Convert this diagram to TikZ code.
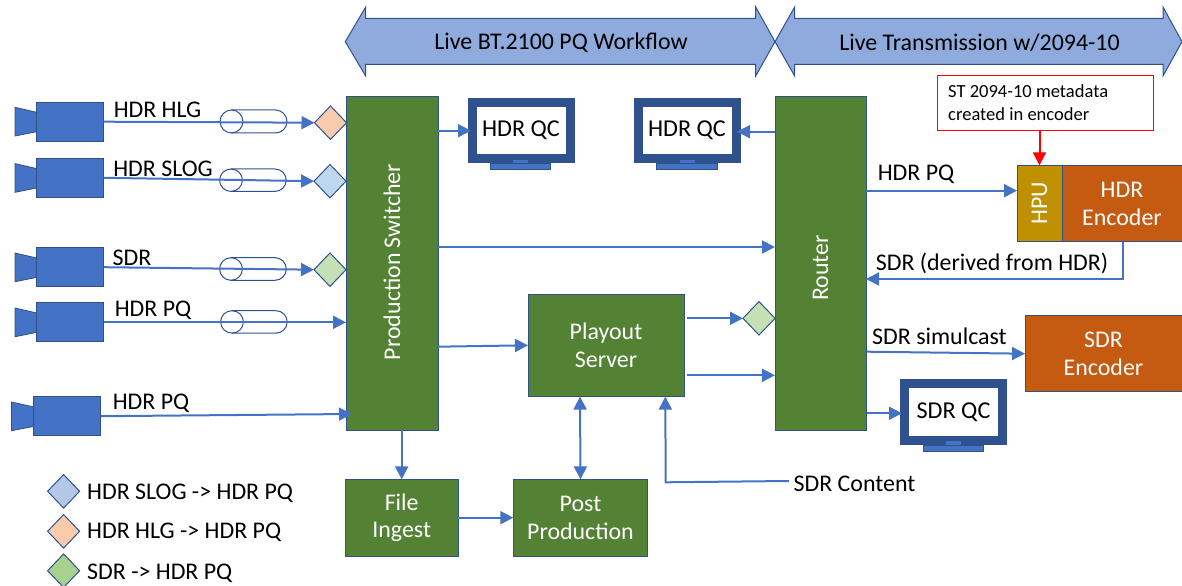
\documentclass[tikz,border=0pt]{standalone}
\usepackage{fontspec}
\setmainfont{Carlito}
\usetikzlibrary{arrows.meta,shapes.geometric}

\definecolor{boxgreen}{HTML}{548235}
\definecolor{edgeblue}{HTML}{2F528F}
\definecolor{linkblue}{HTML}{4472C4}
\definecolor{bannerblue}{HTML}{8FAADC}
\definecolor{encorange}{HTML}{C55A11}
\definecolor{hpugold}{HTML}{BF9000}
\definecolor{hlgpeach}{HTML}{F8CBAD}
\definecolor{slogblue}{HTML}{BDD7EE}
\definecolor{sdrgreen}{HTML}{C5E0B4}
\definecolor{keyblue}{HTML}{B4C7E7}
\definecolor{keygreen}{HTML}{A9D18E}

\tikzset{
  box/.style={draw=edgeblue, line width=1bp, fill=boxgreen, text=white, align=center, inner sep=0pt, outer sep=0pt, font=\fontsize{24}{28}\selectfont},
  encoder/.style={box, fill=encorange},
  link/.style={draw=linkblue, line width=2bp, -{Triangle[length=13bp,width=13bp]}},
  biglink/.style={link, {Triangle[length=13bp,width=13bp]}-{Triangle[length=13bp,width=13bp]}},
  caption/.style={inner sep=0pt, font=\fontsize{24}{28}\selectfont},
  banner/.style={draw=edgeblue, line width=1bp, fill=bannerblue},
  lens/.style={draw=edgeblue, line width=.8bp, fill=linkblue},
  cambody/.style={draw=edgeblue, line width=.8bp, fill=linkblue, inner sep=0pt, outer sep=0pt, minimum width=67bp, minimum height=39bp},
  cable/.style={draw=edgeblue, line width=1bp},
  convert/.style={diamond, draw=edgeblue, line width=1bp, inner sep=0pt, outer sep=0pt, minimum width=32bp, minimum height=33.5bp},
  monitor/.style={draw=edgeblue, line width=9bp, fill=white, inner sep=0pt, minimum width=98bp, minimum height=56.5bp, font=\fontsize{24.3}{28}\selectfont},
  stand/.style={draw=edgeblue, line width=.6bp, fill=linkblue, inner sep=0pt, outer sep=0pt, minimum width=60.5bp, minimum height=6bp},
  neck/.style={fill=linkblue, inner sep=0pt, minimum width=15bp, minimum height=3.5bp}
}

\begin{document}
\begin{tikzpicture}[x=1bp,y=-1bp]

\useasboundingbox (0,0) rectangle (1182,586);

% banners
\draw [banner] (345.3,41.7) -- (365.7,7) -- (365.7,18.5) -- (755.7,18.5) -- (755.7,7) -- (775,41.7)
-- (755.7,76) -- (755.7,64.5) -- (365.7,64.5) -- (365.7,76) -- cycle;
\draw [banner] (775,41.7) -- (794.7,7) -- (794.7,18.5) -- (1163,18.5) -- (1163,7) -- (1182,41.7)
-- (1163,76) -- (1163,64.5) -- (794.7,64.5) -- (794.7,76) -- cycle;
\node [caption] (workflow) at (561,43) {Live BT.2100 PQ Workflow};
\node [caption] (transmission) at (979.5,43) {Live Transmission w/2094-10};

% main blocks
\node [box, minimum width=92bp, minimum height=333bp] (switcher) at (392,263.5) {};
\node [box, rotate=90, draw=none, fill=none] (switchertext) at (392,262) {Production Switcher};
\node [box, minimum width=91bp, minimum height=333bp] (router) at (820.5,263.5) {};
\node [box, rotate=90, draw=none, fill=none] (routertext) at (820.5,268) {Router};
\node [box, minimum width=156bp, minimum height=102.5bp] (playout) at (606,345.3) {Playout\\Server};
\node [box, minimum width=113bp, minimum height=76.7bp] (ingest) at (401.7,517.7) {File\\Ingest};
\node [box, minimum width=134.4bp, minimum height=76.7bp] (post) at (580.5,517.7) {Post\\Production};

% encoders
\node [box, fill=hpugold, minimum width=45bp, minimum height=76.4bp] (hpu) at (1039.5,203.5) {};
\node [box, rotate=90, draw=none, fill=none] (hputext) at (1039.5,203.5) {HPU};
\node [encoder, minimum width=120bp, minimum height=76.4bp] (hdrenc) at (1122,203.5) {HDR\\Encoder};
\node [encoder, minimum width=157bp, minimum height=76bp] (sdrenc) at (1103.5,353.7) {SDR\\Encoder};
\node [draw=red, line width=1bp, fill=white, minimum width=216bp, minimum height=55.4bp, outer sep=0pt, inner sep=0pt] (metabox) at (1045,103) {};
\node [anchor=west, align=left, inner sep=0pt, font=\fontsize{18.6}{23}\selectfont] (metatext) at (948,103) {ST 2094-10 metadata\\created in encoder};

% monitors
\node [monitor] (qcleft) at (521,130.7) {HDR QC};
\node [neck] (neckleft) at (520.5,161.5) {};
\node [stand] (standleft) at (520.5,166.5) {};
\node [monitor] (qcright) at (687,130.7) {HDR QC};
\node [neck] (neckright) at (687,161.5) {};
\node [stand] (standright) at (687,166.5) {};
\node [monitor] (qcsdr) at (953.5,412.2) {SDR QC};
\node [neck] (necksdr) at (953.5,443) {};
\node [stand] (standsdr) at (953.5,448) {};

% cameras
\draw [lens] (15,107.3)--(36.7,112.3)--(36.7,131.7)--(15,136)--cycle;
\node [cambody] (camA) at (70.2,121.7) {};
\draw [lens] (15,163.6)--(36.7,168.6)--(36.7,188)--(15,192.3)--cycle;
\node [cambody] (camB) at (70.2,177.8) {};
\draw [lens] (15,253)--(36.7,258)--(36.7,277.4)--(15,281.7)--cycle;
\node [cambody] (camC) at (70.2,267.2) {};
\draw [lens] (15,308)--(36.7,313)--(36.7,332.4)--(15,336.7)--cycle;
\node [cambody] (camD) at (70.2,322.3) {};
\draw [lens] (11.5,402)--(34,407)--(34,426.4)--(11.5,430.7)--cycle;
\node [cambody] (camE) at (67.3,416.2) {};

% cables
\draw [cable] (231.5,110) -- (275.5,110) arc (-90:90:11.5) -- (231.5,133);
\draw [cable] (231.5,121.5) ellipse (11.4 and 11.5);
\draw [cable] (231,169) -- (275,169) arc (-90:90:11.2) -- (231,191.4);
\draw [cable] (231,180.2) ellipse (11.4 and 11.2);
\draw [cable] (231,257.7) -- (275,257.7) arc (-90:90:11.3) -- (231,280.3);
\draw [cable] (231,269) ellipse (11.4 and 11.3);
\draw [cable] (232,310.7) -- (276,310.7) arc (-90:90:11.2) -- (232,333.1);
\draw [cable] (232,321.9) ellipse (11.4 and 11.2);

% converters
\node [convert, fill=hlgpeach] (convA) at (330.5,122.7) {};
\node [convert, fill=slogblue] (convB) at (330,181.2) {};
\node [convert, fill=sdrgreen] (convC) at (330,269.7) {};
\node [convert, fill=sdrgreen] (convD) at (759,318.3) {};

% legend
\node [convert, fill=keyblue] (keyA) at (63.6,491.3) {};
\node [convert, fill=hlgpeach] (keyB) at (63.6,531.3) {};
\node [convert, fill=keygreen] (keyC) at (63.6,570.7) {};
\node [caption, anchor=west] (keytextA) at (87,493) {HDR SLOG -> HDR PQ};
\node [caption, anchor=west] (keytextB) at (87,532.5) {HDR HLG -> HDR PQ};
\node [caption, anchor=west] (keytextC) at (87,573) {SDR -> HDR PQ};

% free ends on the blocks
\coordinate (swqc) at (437,130.7);
\coordinate (swrouter) at (438,247);
\coordinate (swplay) at (438,346.7);
\coordinate (swcamE) at (352,414);
\coordinate (swdown) at (401.7,430);
\coordinate (rtqc) at (775,131.7);
\coordinate (rtpq) at (866,190.7);
\coordinate (rtmid) at (775,247);
\coordinate (rtsdr) at (866,279);
\coordinate (rtsim) at (866.7,351.7);
\coordinate (rtqcsdr) at (867,413.3);
\coordinate (rtplay) at (775,375.3);
\coordinate (plconv) at (687,318.3);
\coordinate (plrouter) at (687,375.3);
\coordinate (plpost) at (580,396.6);
\coordinate (plsdr) at (665.3,396.6);
\coordinate (sdrcorner) at (665.7,482.3);
\coordinate (sdrfree) at (789,481);
\coordinate (enccorner) at (1123,279);
\coordinate (encdown) at (1123,241.7);
\coordinate (qcleftin) at (471,130.7);
\coordinate (qcrightin) at (737,131.7);
\coordinate (qcsdrin) at (902,413.3);

% connectors
\draw [link] (camA.east) -- (convA.west);
\draw [link] (camB.east) -- (convB.west);
\draw [link] (camC.east) -- (convC.west);
\draw [link] (camD.east) -- (switcher.west |- camD.east);
\draw [link] (camE.east) -- (swcamE);
\draw [link] (swqc) -- (qcleftin);
\draw [link] (rtqc) -- (qcrightin);
\draw [link] (swrouter) -- (rtmid);
\draw [link] (swplay) -- (playout.west);
\draw [link] (swdown) -- (ingest.north);
\draw [link] (ingest.east) -- (post.west);
\draw [biglink] (plpost) -- (post.north);
\draw [link] (sdrfree) -- (sdrcorner) -- (plsdr);
\draw [link] (plconv) -- (convD.west);
\draw [link] (plrouter) -- (rtplay);
\draw [link] (rtpq) -- (hpu.west |- rtpq);
\draw [link] (encdown) -- (enccorner) -- (rtsdr);
\draw [link] (rtsim) -- (sdrenc.west);
\draw [link] (rtqcsdr) -- (qcsdrin);
\draw [draw=red, line width=2bp, -{Triangle[length=13bp,width=13bp]}] (metabox.south -| hpu.north) -- (hpu.north);

% labels
\node [caption] (hlglabel) at (157.5,110) {HDR HLG};
\node [caption] (sloglabel) at (163,169) {HDR SLOG};
\node [caption] (sdrlabel) at (132,257.5) {SDR};
\node [caption] (pqlabelA) at (153,310) {HDR PQ};
\node [caption] (pqlabelB) at (151,403) {HDR PQ};
\node [caption] (pqlabelC) at (916,174) {HDR PQ};
\node [caption] (derivedlabel) at (992,263) {SDR (derived from HDR)};
\node [caption] (simullabel) at (939.5,336) {SDR simulcast};
\node [caption] (contentlabel) at (854.5,484) {SDR Content};

\end{tikzpicture}
\end{document}
